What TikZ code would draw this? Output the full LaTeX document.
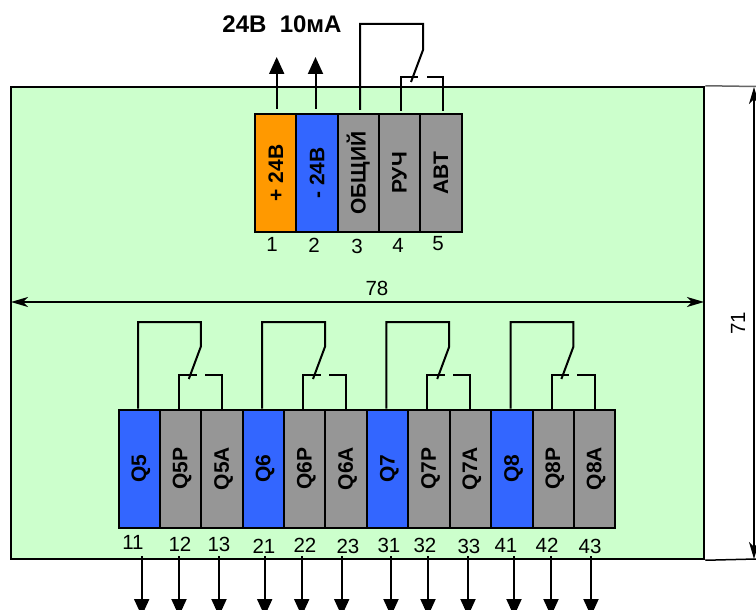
\documentclass[tikz,border=0pt]{standalone}
\usepackage{fontspec}
\setmainfont{Liberation Sans}
\usetikzlibrary{arrows.meta}
\definecolor{panel}{HTML}{CCFFCC}
\definecolor{tor}{HTML}{FF9900}
\definecolor{tbl}{HTML}{3366FF}
\definecolor{tgr}{HTML}{969696}
\newcommand{\lowtxt}[1]{\raisebox{-1.6pt}[\height][\depth]{#1}}
\tikzset{
  wire/.style={line width=2pt,black},
  sig/.style={wire,-{Stealth[length=17pt,width=15pt,inset=0pt]}},
  dim/.style={line width=1.5pt,black,{Stealth[length=17pt,width=10pt,inset=5pt]}-{Stealth[length=17pt,width=10pt,inset=5pt]}},
  term/.style={draw=black,line width=2pt,rotate=90,minimum width=118pt,minimum height=41.3pt,inner sep=0pt,font=\fontsize{21}{21}\selectfont\bfseries},
  lab/.style={font=\fontsize{20.5}{20.5}\selectfont,inner sep=0pt},
}
\begin{document}
\begin{tikzpicture}[x=1pt,y=-1pt]
\useasboundingbox (0,0) rectangle (756,610);
\clip (0,0) rectangle (756,610);
\fill[white] (0,0) rectangle (756,610);
% panel and extension lines
\node[draw=black,line width=2.5pt,fill=panel,minimum width=693pt,minimum height=472pt,inner sep=0pt] (panel) at (357.5,323) {};
\coordinate (extT) at (756,86.5);
\coordinate (extB) at (756,559);
\draw[line width=1.5pt,black!60] (panel.north east) -- (extT);
\draw[line width=1.5pt] (panel.south east) -- (extB);
% dimensions
\coordinate (dL) at (11,302);
\coordinate (dR) at (704,302);
\draw[dim] (dL) -- (dR);
\node[lab] (d78) at (377,288) {78};
\coordinate (vT) at (754,87);
\coordinate (vB) at (754,559);
\draw[dim] (vT) -- (vB);
\node[lab,rotate=90] (d71) at (738,323) {71};
% top terminal block
\node[font=\fontsize{24}{24}\selectfont\bfseries,inner sep=0pt] (title) at (282,24) {24В\ \ 10мА};
\node[term,fill=tor] (t1) at (275.7,173) {+ 24В};
\node[term,fill=tbl] (t2) at (317,173) {- 24В};
\node[term,fill=tgr] (t3) at (358.3,173) {ОБЩИЙ};
\node[term,fill=tgr] (t4) at (399.6,173) {РУЧ};
\node[term,fill=tgr] (t5) at (440.9,173) {АВТ};
\foreach \n/\x/\y in {1/272/244,2/314/245,3/357/246,4/398/245,5/438/244}
  \node[lab] (tl\n) at (\x,\y) {\n};
\coordinate (up1) at (276.7,57);
\coordinate (up2) at (315.5,57);
\draw[sig,shorten <=4pt] (t1.east -| up1) -- (up1);
\draw[sig,shorten <=4pt] (t2.east -| up2) -- (up2);
\coordinate (swA) at (423,24);
\coordinate (swB) at (423,50);
\coordinate (swC) at (411,82);
\draw[wire,shorten <=3pt] ([xshift=1.7pt]t3.east) -- ([xshift=1.7pt]t3.east |- swA) -- (swA) -- (swB) -- (swC);
\coordinate (cL) at (418,77.5);
\coordinate (cR) at (427,77.5);
\draw[wire,shorten <=2pt] ([xshift=1.4pt]t4.east) -- ([xshift=1.4pt]t4.east |- cL) -- (cL);
\draw[wire,shorten <=2pt] ([xshift=2pt]t5.east) -- ([xshift=2pt]t5.east |- cR) -- (cR);
% bottom terminal block
\foreach \i/\a/\b/\c/\nA/\nB/\nC in {0/Q5/Q5P/Q5A/b1/b2/b3,1/Q6/Q6P/Q6A/b4/b5/b6,2/Q7/Q7P/Q7A/b7/b8/b9,3/Q8/Q8P/Q8A/b10/b11/b12}{
  \pgfmathsetmacro\xx{139.3+124.2*\i}
  \node[term,fill=tbl] (\nA) at (\xx,468.5) {\lowtxt{\a}};
  \node[term,fill=tgr] (\nB) at (\xx+41.3,468.5) {\lowtxt{\b}};
  \node[term,fill=tgr] (\nC) at (\xx+82.6,468.5) {\lowtxt{\c}};
  \coordinate (sA\i) at (\xx+61.5,322);
  \coordinate (sB\i) at (\xx+61.5,346.7);
  \coordinate (sC\i) at (\xx+49.5,379);
  \coordinate (kL\i) at (\xx+57.5,375);
  \coordinate (kR\i) at (\xx+65.5,375);
  \draw[wire] ([xshift=-1.3pt]\nA.east) -- ([xshift=-1.3pt]\nA.east |- sA\i) -- (sA\i) -- (sB\i) -- (sC\i);
  \draw[wire] ([xshift=-1.6pt]\nB.east) -- ([xshift=-1.6pt]\nB.east |- kL\i) -- (kL\i);
  \draw[wire] (\nC.east) -- (\nC.east |- kR\i) -- (kR\i);
}
\foreach \t/\x/\y in {11/133/542,12/180/544,13/219/544,21/264/546,22/305/545,23/348/546,31/389/545,32/425/545,33/469/546,41/506/545,42/547/545,43/590/546}
  \node[lab] (bl\t) at (\x,\y) {\t};
\foreach \t/\x in {11/141.7,12/179,13/219,21/264.7,22/301.7,23/341.7,31/391,32/428,33/468,41/514,42/551,43/591}{
  \coordinate (os\t) at (\x,556);
  \coordinate (oe\t) at (\x,616);
  \draw[sig] (os\t) -- (oe\t);
}
\end{tikzpicture}
\end{document}
